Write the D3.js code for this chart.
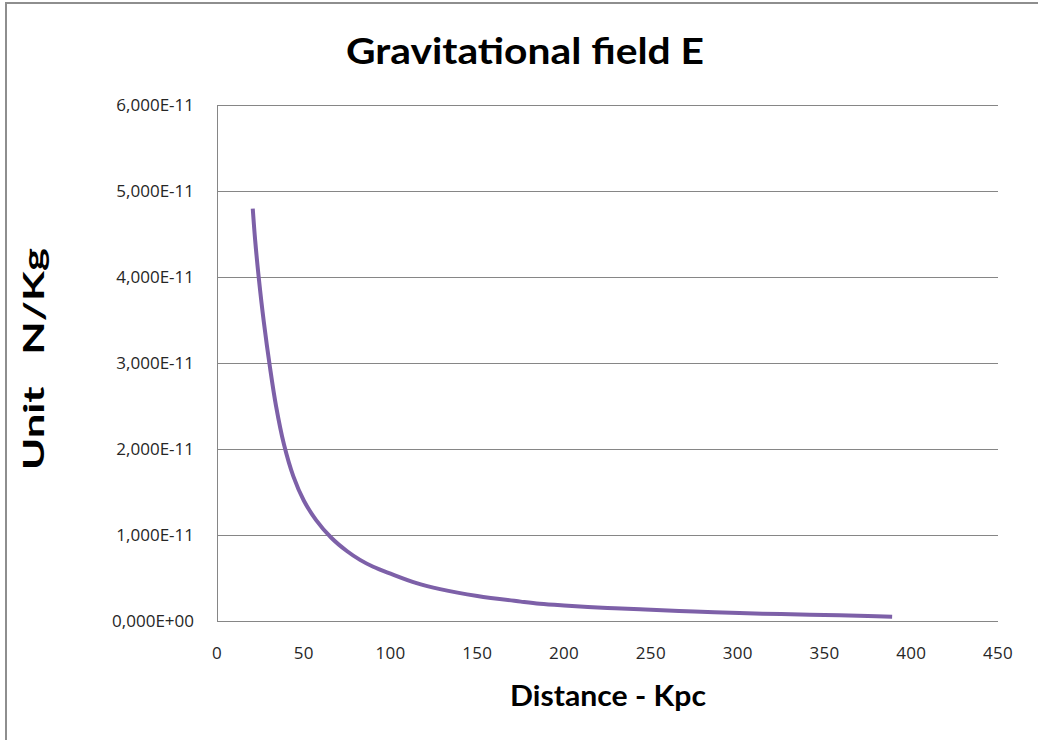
<!DOCTYPE html>
<html>
<head>
<meta charset="utf-8">
<script src="https://cdn.jsdelivr.net/npm/d3@7"></script>
<style>
  html, body { margin: 0; padding: 0; background: #fff; }
  svg { display: block; }
</style>
</head>
<body>
<svg id="chart" width="1038" height="740"></svg>
<script>
// ---- data ----
const distanceKpc = [20.6, 22, 24, 27, 30.5, 34, 38.6, 44, 50, 57, 65.7, 75, 82.4, 90, 100, 115, 128.5, 150, 175, 186, 200, 225, 243.7, 250, 275, 301, 325, 350, 375, 389];
const fieldE11   = [4.79, 4.42, 4.0, 3.47, 2.95, 2.50, 2.05, 1.68, 1.40, 1.175, 0.97, 0.81, 0.71, 0.63, 0.55, 0.44, 0.37, 0.29, 0.225, 0.200, 0.18, 0.152, 0.136, 0.13, 0.11, 0.092, 0.08, 0.07, 0.058, 0.05];
const xTicks = [0, 50, 100, 150, 200, 250, 300, 350, 400, 450];
const yTicks = [0, 1, 2, 3, 4, 5, 6];
const yTickLabels = ["0,000E+00", "1,000E-11", "2,000E-11", "3,000E-11", "4,000E-11", "5,000E-11", "6,000E-11"];
const titleText = "Gravitational field E";
const xTitle = "Distance - Kpc";
const yTitle = "Unit   N/Kg";

const svg = d3.select("#chart");
const plot = { left: 217, right: 998, top: 104.5, bottom: 621 };

// outer frame (only left and top edges visible)
svg.append("rect")
  .attr("x", 6).attr("y", 3).attr("width", 1100).attr("height", 800)
  .attr("fill", "none").attr("stroke", "#8e8e8e").attr("stroke-width", 2);

const x = d3.scaleLinear().domain([0, 450]).range([plot.left, plot.right]);
const y = d3.scaleLinear().domain([0, 6]).range([plot.bottom, plot.top]);

const snap = v => Math.round(v) + 0.5;

// gridlines
svg.append("g").selectAll("line").data(yTicks.filter(d => d > 0)).join("line")
  .attr("x1", plot.left).attr("x2", plot.right)
  .attr("y1", d => snap(y(d))).attr("y2", d => snap(y(d)))
  .attr("stroke", "#868686").attr("stroke-width", 1);

// axis lines
svg.append("line")
  .attr("x1", snap(plot.left)).attr("x2", snap(plot.left))
  .attr("y1", snap(plot.top)).attr("y2", snap(plot.bottom))
  .attr("stroke", "#868686").attr("stroke-width", 1);
svg.append("line")
  .attr("x1", plot.left).attr("x2", plot.right)
  .attr("y1", snap(plot.bottom)).attr("y2", snap(plot.bottom))
  .attr("stroke", "#868686").attr("stroke-width", 1);

const labelFont = "'Open Sans', 'DejaVu Sans', sans-serif";

// y tick labels
svg.append("g").selectAll("text").data(yTicks).join("text")
  .attr("x", 194).attr("y", d => y(d))
  .attr("dy", "0.36em")
  .attr("text-anchor", "end")
  .attr("font-family", labelFont).attr("font-size", 17)
  .attr("fill", "#262626")
  .text((d, i) => yTickLabels[i]);

// x tick labels
svg.append("g").selectAll("text").data(xTicks).join("text")
  .attr("x", d => x(d)).attr("y", 659)
  .attr("text-anchor", "middle")
  .attr("font-family", labelFont).attr("font-size", 17)
  .attr("letter-spacing", 0.3)
  .attr("fill", "#262626")
  .text(d => d);

// curve
const line = d3.line()
  .x((d, i) => x(distanceKpc[i]))
  .y(d => y(d))
  .curve(d3.curveCatmullRom.alpha(0.5));
svg.append("path")
  .datum(fieldE11)
  .attr("d", line)
  .attr("fill", "none")
  .attr("stroke", "#7D60A8")
  .attr("stroke-width", 4)
  .attr("stroke-linejoin", "round");

const titleFont = "Lato, 'Open Sans', sans-serif";

// title
svg.append("text")
  .attr("x", 525).attr("y", 64)
  .attr("text-anchor", "middle")
  .attr("font-family", titleFont).attr("font-weight", "bold").attr("font-size", 37)
  .attr("textLength", 358).attr("lengthAdjust", "spacingAndGlyphs")
  .attr("fill", "#000")
  .text(titleText);

// x axis title
svg.append("text")
  .attr("x", 608).attr("y", 706)
  .attr("text-anchor", "middle")
  .attr("font-family", titleFont).attr("font-weight", "bold").attr("font-size", 29)
  .attr("textLength", 196).attr("lengthAdjust", "spacingAndGlyphs")
  .attr("fill", "#000")
  .text(xTitle);

// y axis title
svg.append("text")
  .attr("transform", `translate(44, 359) rotate(-90)`)
  .attr("text-anchor", "middle")
  .attr("font-family", titleFont).attr("font-weight", "bold").attr("font-size", 29)
  .attr("textLength", 222).attr("lengthAdjust", "spacingAndGlyphs")
  .attr("fill", "#000")
  .attr("xml:space", "preserve")
  .style("white-space", "pre")
  .text(yTitle);
</script>
</body>
</html>
